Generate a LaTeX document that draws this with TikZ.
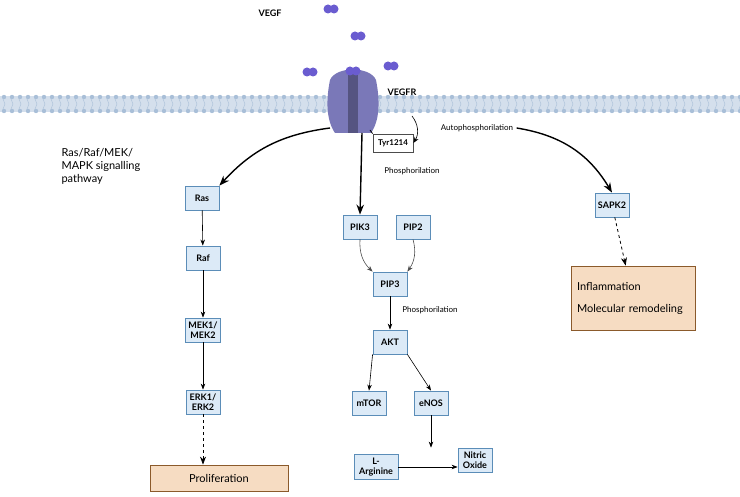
\documentclass[tikz,border=0pt]{standalone}
\usepackage{fontspec}
\setmainfont{Lato}
\usetikzlibrary{positioning,arrows.meta,calc}
\definecolor{boxfill}{HTML}{DCEAF7}
\definecolor{boxline}{HTML}{5B8DB8}
\definecolor{outfill}{HTML}{F6DCC2}
\definecolor{outline}{HTML}{8B5A2B}
\definecolor{memb}{HTML}{A9BFD8}
\definecolor{recep}{HTML}{7A78B8}
\definecolor{lig}{HTML}{6A5CD0}
\tikzset{
  mol/.style={draw=boxline,fill=boxfill,thick,font=\bfseries\fontsize{9}{10.5}\selectfont,
    align=center,minimum height=24pt,minimum width=34pt,inner sep=3pt},
  res/.style={draw=outline,fill=outfill,thick,font=\fontsize{11}{13}\selectfont},
  flow/.style={-{Stealth[length=6pt]},semithick},
  big/.style={-{Stealth[length=10pt]},line width=1.4pt},
  lbl/.style={font=\fontsize{8}{9}\selectfont}
}
\newcommand\dimer[1]{\fill[lig] ($(#1)+(-3,0)$) circle (4.5) ($(#1)+(3,0)$) circle (4.5);}
\begin{document}
\begin{tikzpicture}[x=1pt,y=-1pt]
	\useasboundingbox (0,0) rectangle (740,497);
	% membrane
	\fill[memb!50] (0,96) rectangle (740,112);
	\foreach \i in {0,...,92}{
		\fill[memb] (\i*8+4,97) circle (2.2) (\i*8+4,111) circle (2.2);
		\draw[memb,thin] (\i*8+3,99)--(\i*8+5,104)--(\i*8+3,109);
	}
	% receptor
	\fill[recep] (330,80) .. controls (326,100) and (326,120) .. (335,133) -- (371,133)
		.. controls (380,120) and (380,100) .. (376,80) .. controls (370,66) and (336,66) .. (330,80);
	\fill[recep!70!black] (348,72) rectangle (358,133);
	\dimer{331,9} \dimer{358,36} \dimer{310,72} \dimer{391,66} \dimer{353,71}
	\node[font=\bfseries\fontsize{9}{10}\selectfont] (vegf) at (270,13) {VEGF};
	\node[font=\bfseries\fontsize{9}{10}\selectfont] (vegfr) at (402,92) {VEGFR};
	\coordinate (rL) at (330,128);
	\coordinate (rB) at (362,133);
	\coordinate (rR) at (412,116);
	% nodes
	\node[mol,draw=black!70,fill=white,minimum height=18pt,minimum width=40pt,font=\fontsize{8}{9}\selectfont\bfseries] (tyr) at (393,143) {Tyr1214};
	\node[lbl] (auto) at (477,128) {Autophosphorilation};
	\node[mol] (ras) at (202,198) {Ras};
	\node[mol] (raf) at (203,258) {Raf};
	\node[mol] (mek) at (203,330) {MEK1/\\MEK2};
	\node[mol] (erk) at (203,402) {ERK1/\\ERK2};
	\node[res,minimum width=138pt,minimum height=26pt] (prol) at (219,478) {Proliferation};
	\node[align=left,anchor=west,font=\fontsize{11}{13}\selectfont] (path) at (58,166) {Ras/Raf/MEK/\\MAPK signalling\\pathway};
	\node[mol] (pik) at (360,227) {PIK3};
	\node[mol] (pip2) at (413,227) {PIP2};
	\node[mol] (pip3) at (390,284) {PIP3};
	\node[mol] (akt) at (390,342) {AKT};
	\node[mol] (mtor) at (369,403) {mTOR};
	\node[mol] (enos) at (431,403) {eNOS};
	\node[mol,minimum width=44pt] (larg) at (376,467) {L-\\Arginine};
	\node[mol] (no) at (475,460) {Nitric\\Oxide};
	\node[lbl] (ph1) at (412,171) {Phosphorilation};
	\node[lbl] (ph2) at (430,310) {Phosphorilation};
	\node[mol] (sapk) at (612,205) {SAPK2};
	\node[res,align=left,minimum width=124pt,minimum height=64pt,text width=112pt] (infl) at (633,298)
		{Inflammation\\[9pt]Molecular remodeling};
	% connectors
	\draw[big] (rL) to[bend right=20] (ras.north east);
	\draw[big] (rB) -- (pik.north);
	\draw[thick] (370,130) -- (tyr.north west);
	\draw[flow] (rR) to[bend left=35] (tyr.east);
	\draw[big] (auto.east) to[bend left=25] (sapk.north);
	\draw[flow] (ras) -- (raf);
	\draw[flow] (raf) -- (mek);
	\draw[flow] (mek) -- (erk);
	\draw[-{Stealth[length=8pt]},thick,dashed] (erk) -- (erk|-prol.north);
	\draw[-{Stealth[length=8pt]},thick,dashed] (sapk) -- (infl);
	\draw[flow,black!70] (pik.south) to[bend right=25] (pip3.north west);
	\draw[flow,black!70] (pip2.south) to[bend left=25] (pip3.north east);
	\draw[flow] (pip3) -- (akt);
	\draw[flow] (akt.south west) -- (mtor.north);
	\draw[flow] (akt.south east) -- (enos.north);
	\draw[flow] (enos) -- (enos|-no.north);
	\draw[flow] (larg) -- (larg-|no.west);
\end{tikzpicture}
\end{document}
